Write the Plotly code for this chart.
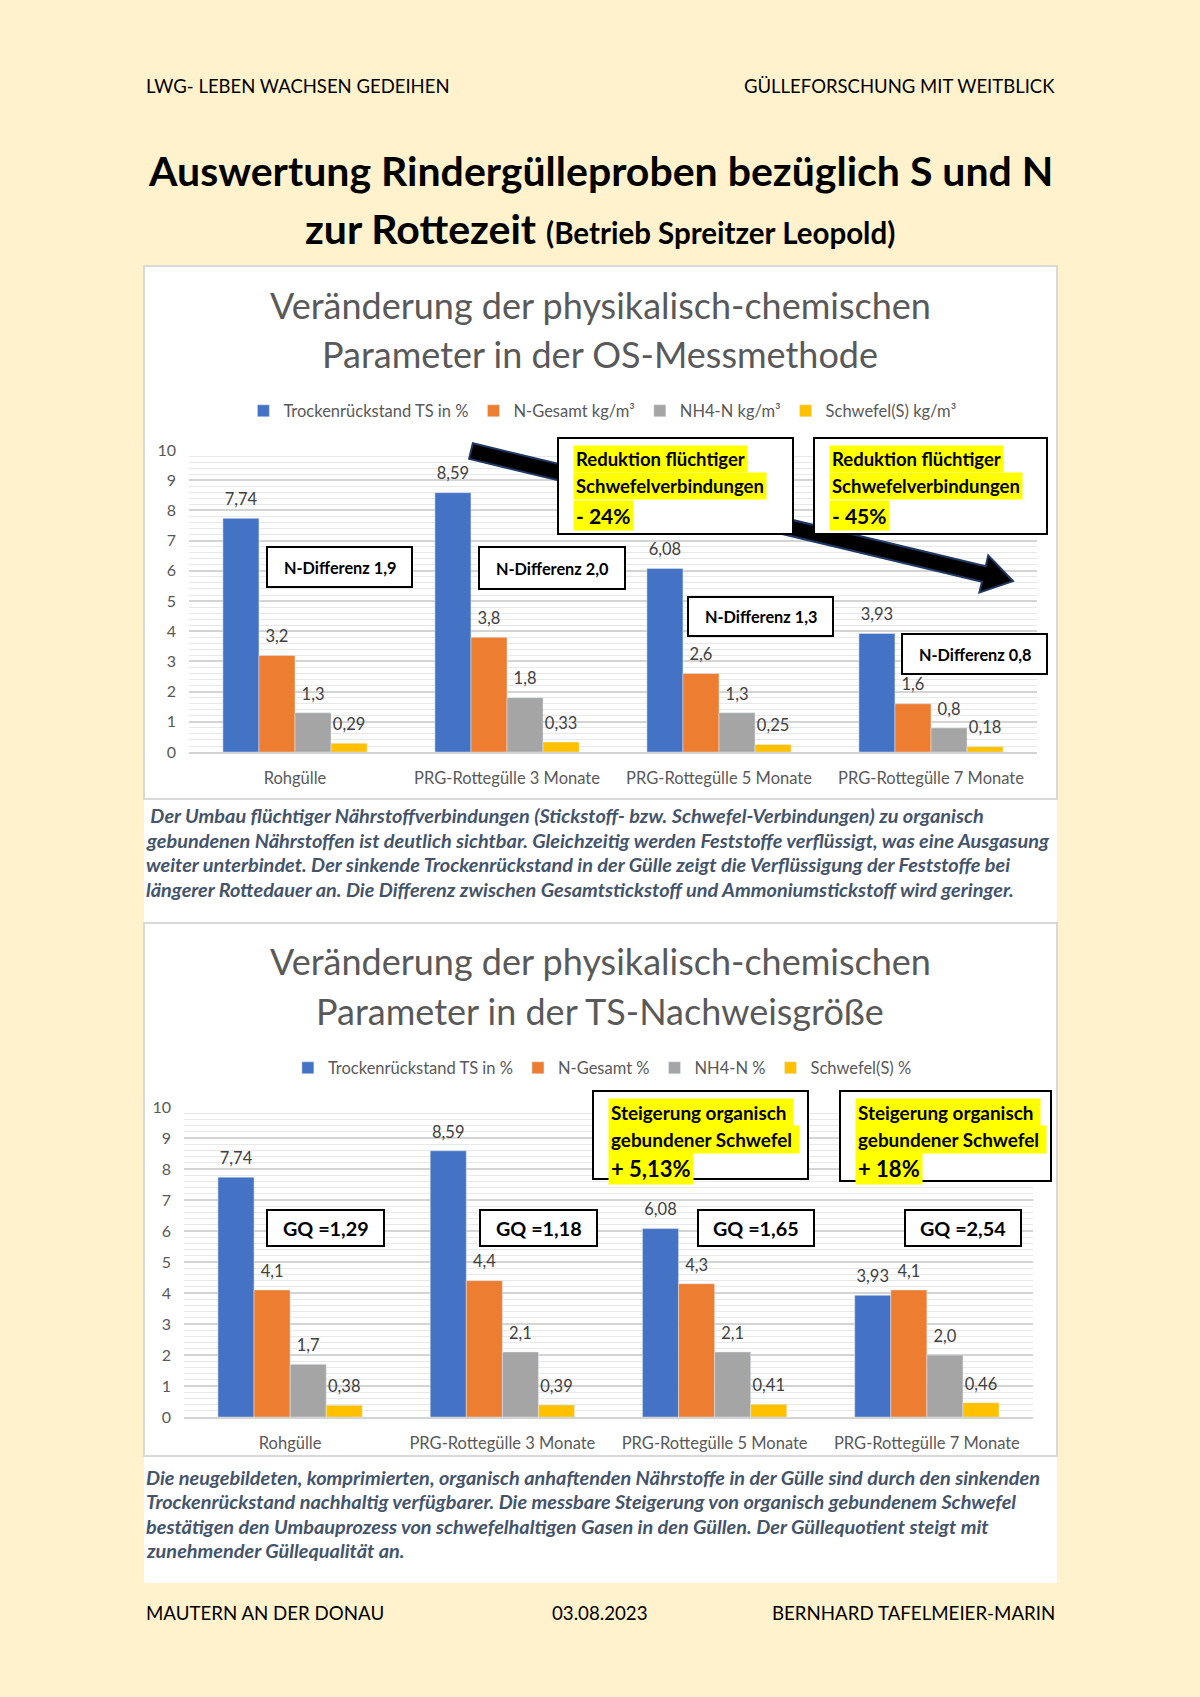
import math
import plotly.graph_objects as go

# ---------------- data ----------------
categories = ["Rohgülle", "PRG-Rottegülle 3 Monate", "PRG-Rottegülle 5 Monate", "PRG-Rottegülle 7 Monate"]

series_os_names = ["Trockenrückstand TS in %", "N-Gesamt kg/m³", "NH4-N kg/m³", "Schwefel(S) kg/m³"]
ts_os = [7.74, 8.59, 6.08, 3.93]
n_os = [3.2, 3.8, 2.6, 1.6]
nh4_os = [1.3, 1.8, 1.3, 0.8]
s_os = [0.29, 0.33, 0.25, 0.18]

series_ts_names = ["Trockenrückstand TS in %", "N-Gesamt %", "NH4-N %", "Schwefel(S) %"]
ts_ts = [7.74, 8.59, 6.08, 3.93]
n_ts = [4.1, 4.4, 4.3, 4.1]
nh4_ts = [1.7, 2.1, 2.1, 2.0]
s_ts = [0.38, 0.39, 0.41, 0.46]

ndiff_labels = ["N-Differenz 1,9", "N-Differenz 2,0", "N-Differenz 1,3", "N-Differenz 0,8"]
gq_labels = ["GQ =1,29", "GQ =1,18", "GQ =1,65", "GQ =2,54"]
reduktion_pct = ["- 24%", "- 45%"]
steigerung_pct = ["+ 5,13%", "+ 18%"]

header_left = "LWG- LEBEN WACHSEN GEDEIHEN"
header_right = "GÜLLEFORSCHUNG MIT WEITBLICK"
footer = ["MAUTERN AN DER DONAU", "03.08.2023", "BERNHARD TAFELMEIER-MARIN"]

para1 = [
    " Der Umbau flüchtiger Nährstoffverbindungen (Stickstoff- bzw. Schwefel-Verbindungen) zu organisch",
    "gebundenen Nährstoffen ist deutlich sichtbar. Gleichzeitig werden Feststoffe verflüssigt, was eine Ausgasung",
    "weiter unterbindet. Der sinkende Trockenrückstand in der Gülle zeigt die Verflüssigung der Feststoffe bei",
    "längerer Rottedauer an. Die Differenz zwischen Gesamtstickstoff und Ammoniumstickstoff wird geringer.",
]
para2 = [
    "Die neugebildeten, komprimierten, organisch anhaftenden Nährstoffe in der Gülle sind durch den sinkenden",
    "Trockenrückstand nachhaltig verfügbarer. Die messbare Steigerung von organisch gebundenem Schwefel",
    "bestätigen den Umbauprozess von schwefelhaltigen Gasen in den Güllen. Der Güllequotient steigt mit",
    "zunehmender Güllequalität an.",
]

colors = ["#4472C4", "#ED7D31", "#A5A5A5", "#FFC000"]
fmts = ["%{y:.2f}", "%{y:.1f}", "%{y:.1f}", "%{y:.2f}"]

W, H = 1200, 1697
FONT = "Lato"
GRAY = "#595959"
GAP = 0.32

# vertical calibration of the photographed page (measured): shown = 0.9888*y + 8.93
VS, VO = 0.9888, 8.93


def X(p):
    return p / W


def Y(p):
    return 1 - ((p - VO) / VS) / H


fig = go.Figure()


def add_chart(names, series, xa, ya, leg):
    for i, (name, vals) in enumerate(zip(names, series)):
        fig.add_trace(go.Bar(
            x=categories, y=vals, name=name, marker_color=colors[i],
            offsetgroup=f"g{i}", xaxis=xa, yaxis=ya, legend=leg, hoverinfo="skip"))
    # value labels: same grouping as the bars, lifted a little above each bar
    for i, (name, vals) in enumerate(zip(names, series)):
        fig.add_trace(go.Scatter(
            x=categories, y=vals, mode="markers+text", texttemplate=fmts[i],
            textposition="top center", cliponaxis=False, offsetgroup=f"g{i}",
            marker=dict(size=13, opacity=0, color=colors[i]),
            textfont=dict(family=FONT, size=16.5, color="#404040"),
            showlegend=False, xaxis=xa, yaxis=ya, hoverinfo="skip"))


add_chart(series_os_names, [ts_os, n_os, nh4_os, s_os], "x", "y", "legend")
add_chart(series_ts_names, [ts_ts, n_ts, nh4_ts, s_ts], "x2", "y2", "legend2")


def yax(domain, anchor):
    return dict(domain=domain, anchor=anchor, range=[0, 10], dtick=1,
                showgrid=True, gridcolor="#D4D4D4", gridwidth=1.5,
                minor=dict(dtick=0.2, showgrid=True, gridcolor="#E8E8E8", gridwidth=1),
                zeroline=False, showline=False, ticks="",
                tickfont=dict(family=FONT, size=16, color=GRAY),
                ticklabelstandoff=12, fixedrange=True)


def xax(domain, anchor):
    return dict(domain=domain, anchor=anchor, showline=True, linecolor="#D4D4D4",
                linewidth=1.5, ticks="", showgrid=False,
                tickfont=dict(family=FONT, size=16.5, color=GRAY),
                ticklabelstandoff=10, fixedrange=True)


# chart 1 plot area: x 189..1037 px, y 449 (10) .. 751 (0)
# chart 2 plot area: x 184..1033 px, y 1106 (10) .. 1416 (0)
layout = dict(
    width=W, height=H, autosize=False,
    margin=dict(l=0, r=0, t=0, b=0),
    paper_bgcolor="#FFF2CC", plot_bgcolor="rgba(0,0,0,0)",
    separators=",.",
    barmode="group", bargap=GAP, bargroupgap=0,
    scattermode="group", scattergap=GAP,
    font=dict(family=FONT, color=GRAY),
    xaxis=xax([X(189), X(1037)], "y"),
    yaxis=yax([Y(751), Y(449)], "x"),
    xaxis2=xax([X(184), X(1033)], "y2"),
    yaxis2=yax([Y(1416), Y(1106)], "x2"),
    legend=dict(orientation="h", x=0.502, xanchor="center", y=Y(410), yanchor="middle",
                font=dict(family=FONT, size=16.5, color=GRAY), bgcolor="rgba(0,0,0,0)",
                itemclick=False, itemdoubleclick=False),
    legend2=dict(orientation="h", x=0.502, xanchor="center", y=Y(1067), yanchor="middle",
                 font=dict(family=FONT, size=16.5, color=GRAY), bgcolor="rgba(0,0,0,0)",
                 itemclick=False, itemdoubleclick=False),
    showlegend=True,
)
fig.update_layout(**layout)

shapes = []
annotations = []


def rect(x0, y0, x1, y1, fill=None, line=None, lw=1.5, layer="above"):
    shapes.append(dict(type="rect", xref="paper", yref="paper",
                       x0=X(x0), x1=X(x1), y0=Y(y1), y1=Y(y0),
                       fillcolor=fill if fill else "rgba(0,0,0,0)",
                       line=dict(color=line if line else "rgba(0,0,0,0)", width=lw if line else 0),
                       layer=layer))


def text(x, y, t, size, color="black", bold=False, italic=False, xanchor="center",
         yanchor="middle", bg=None, pad=1, family=FONT):
    s = t
    if bold:
        s = "<b>" + s + "</b>"
    if italic:
        s = "<i>" + s + "</i>"
    annotations.append(dict(xref="paper", yref="paper", x=X(x), y=Y(y), text=s,
                            showarrow=False, xanchor=xanchor, yanchor=yanchor,
                            font=dict(family=family, size=size, color=color),
                            bgcolor=bg if bg else "rgba(0,0,0,0)", borderpad=pad))


# white page panel + chart frames
rect(144, 265, 1057, 1582, fill="white", layer="below")
rect(144, 265, 1057, 798, line="#D9D9D9", lw=2, layer="below")
rect(144, 922, 1057, 1455, line="#D9D9D9", lw=2, layer="below")

# header / title
text(144, 85, header_left, 18.5, xanchor="left")
text(1057, 85, header_right, 18.5, xanchor="right")
text(600, 169, "Auswertung Rindergülleproben bezüglich S und N", 41, bold=True)
text(600, 227, "zur Rottezeit <span style='font-size:29.5px'>(Betrieb Spreitzer Leopold)</span>", 41, bold=True)

# chart titles
text(600, 304, "Veränderung der physikalisch-chemischen", 36, color=GRAY)
text(600, 353, "Parameter in der OS-Messmethode", 36, color=GRAY)
text(600, 960, "Veränderung der physikalisch-chemischen", 36, color=GRAY)
text(600, 1010, "Parameter in der TS-Nachweisgröße", 36, color=GRAY)

# big arrow (decoration) from (471,450) to (1013,580)
sx, sy, ex, ey = 471, 450, 1013, 580
L = math.hypot(ex - sx, ey - sy)
ux, uy = (ex - sx) / L, (ey - sy) / L
nx, ny = -uy, ux
w, h, hl = 8, 19, 30
bx, by = ex - ux * hl, ey - uy * hl
pts = [(sx + nx * w, sy + ny * w), (bx + nx * w, by + ny * w), (bx + nx * h, by + ny * h),
       (ex, ey), (bx - nx * h, by - ny * h), (bx - nx * w, by - ny * w), (sx - nx * w, sy - ny * w)]
path = "M " + " L ".join(f"{X(px):.5f},{Y(py):.5f}" for px, py in pts) + " Z"
shapes.append(dict(type="path", xref="paper", yref="paper", path=path,
                   fillcolor="black", line=dict(color="#1F3864", width=2), layer="above"))

# N-Differenz boxes
ndiff_boxes = [(267, 546, 412, 586), (479, 546, 625, 588), (688, 596, 833, 635), (902, 633, 1047, 673)]
for lab, (x0, y0, x1, y1) in zip(ndiff_labels, ndiff_boxes):
    rect(x0, y0, x1, y1, fill="white", line="black", lw=2)
    text((x0 + x1) / 2, (y0 + y1) / 2, lab, 16.3, bold=True)

# Reduktion boxes
red_boxes = [(558, 437, 793, 533), (814, 437, 1047, 533)]
for pct, (x0, y0, x1, y1) in zip(reduktion_pct, red_boxes):
    rect(x0, y0, x1, y1, fill="white", line="black", lw=2)
    tx = x0 + 15
    text(tx, 458, "Reduktion flüchtiger", 18.5, bold=True, xanchor="left", bg="#FFFF00", pad=2)
    text(tx, 485, "Schwefelverbindungen", 18.5, bold=True, xanchor="left", bg="#FFFF00", pad=2)
    text(tx, 514, pct, 21, bold=True, xanchor="left", bg="#FFFF00", pad=2)

# GQ boxes
gq_boxes = [(267, 1209, 384, 1245), (480, 1209, 597, 1245), (698, 1209, 814, 1245), (905, 1209, 1021, 1245)]
for lab, (x0, y0, x1, y1) in zip(gq_labels, gq_boxes):
    rect(x0, y0, x1, y1, fill="white", line="black", lw=2)
    text((x0 + x1) / 2, (y0 + y1) / 2, lab, 19.8, bold=True)

# Steigerung boxes
st_boxes = [(593, 1090, 808, 1178), (840, 1090, 1051, 1180)]
for pct, (x0, y0, x1, y1) in zip(steigerung_pct, st_boxes):
    rect(x0, y0, x1, y1, fill="white", line="black", lw=2)
    tx = x0 + 15
    text(tx, 1111, "Steigerung organisch ", 18.9, bold=True, xanchor="left", bg="#FFFF00", pad=2)
    text(tx, 1138, "gebundener Schwefel ", 18.9, bold=True, xanchor="left", bg="#FFFF00", pad=2)
    text(tx, 1167, pct, 22, bold=True, xanchor="left", bg="#FFFF00", pad=2)

# paragraphs
for i, line in enumerate(para1):
    text(144, 814 + i * 24.7, line, 19.9, color="#44546A", bold=True, italic=True, xanchor="left")
for i, line in enumerate(para2):
    text(144, 1476 + i * 24.3, line, 19.9, color="#44546A", bold=True, italic=True, xanchor="left")

# footer
text(144, 1612, footer[0], 18.7, xanchor="left")
text(600, 1612, footer[1], 18.7)
text(1057, 1612, footer[2], 18.7, xanchor="right")

fig.update_layout(shapes=shapes, annotations=annotations)

page_css = (
    "var d=document.documentElement,b=document.body;"
    "[d,b].forEach(function(e){e.style.margin='0';e.style.padding='0';"
    "e.style.overflow='hidden';e.style.background='#FFF2CC';});"
    "b.style.height='1697px';b.style.width='1200px';"
)
fig.write_html("out.html", config={"displayModeBar": False, "responsive": False},
               post_script=page_css)
